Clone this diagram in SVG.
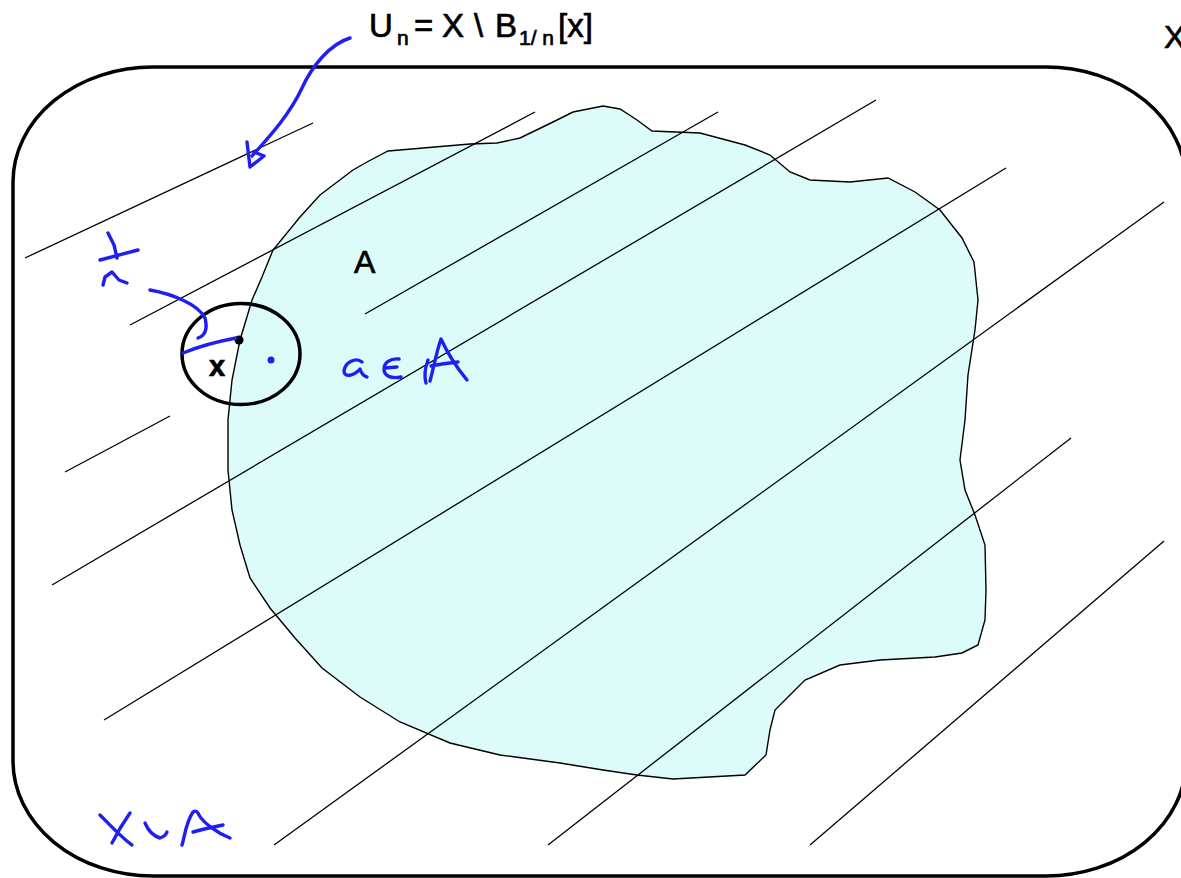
<svg xmlns="http://www.w3.org/2000/svg" width="1181" height="878" viewBox="0 0 1181 878">
<style>
.hatch{stroke:#000;stroke-width:1.3;fill:none}
.ink{stroke:#1f1ff5;stroke-width:3.4;fill:none;stroke-linecap:round;stroke-linejoin:round}
.lbl{font-family:"Liberation Sans",Arial,sans-serif;fill:#000;stroke:#000;stroke-width:0.7}
</style>
<rect width="1181" height="878" fill="#fff"/>
<g id="space-X">
<rect x="13" y="67" width="1173" height="809" rx="140" ry="115" fill="none" stroke="#000" stroke-width="3.5"/>
<text class="lbl" x="1164" y="48" font-size="32">X</text>
</g>
<g id="set-A">
<path d="M388,151 L470,144 L497,143 L520,138 L553,122 L573,112 L603,106 L620,109 L637,120 L652,131 L700,133 L745,145 L770,155 L790,172 L810,180 L850,182 L888,178 L915,192 L940,210 L962,238 L974,262 L978,300 L975,330 L968,375 L965,420 L960,460 L965,490 L975,515 L985,545 L986,590 L985,620 L978,645 L962,653 L935,657 L880,660 L840,665 L805,680 L790,695 L775,710 L770,730 L766,755 L745,775 L673,779 L637,775 L603,770 L560,763 L500,755 L450,743 L400,722 L360,697 L322,668 L295,638 L270,608 L250,578 L240,545 L232,510 L228,470 L228,420 L232,380 L240,340 L252,300 L262,277 L273,250 L300,217 L320,195 L353,170 L367,162 Z" fill="#ddfcf9" stroke="#000" stroke-width="1.4"/>
<text class="lbl" x="354" y="273" font-size="32">A</text>
</g>
<g id="connectors">
<line class="hatch" x1="25" y1="258" x2="313" y2="123"/>
<line class="hatch" x1="130" y1="325" x2="535" y2="112"/>
<line class="hatch" x1="365" y1="314" x2="718" y2="112"/>
<line class="hatch" x1="52" y1="585" x2="876" y2="100"/>
<line class="hatch" x1="65" y1="472" x2="170" y2="416"/>
<line class="hatch" x1="104" y1="720" x2="1006" y2="168"/>
<line class="hatch" x1="274" y1="845" x2="1164" y2="202"/>
<line class="hatch" x1="548" y1="845" x2="1071" y2="438"/>
<line class="hatch" x1="810" y1="845" x2="1164" y2="541"/>
</g>
<g id="ball">
<ellipse cx="241" cy="354" rx="59" ry="50.5" fill="none" stroke="#000" stroke-width="3.5"/>
<circle cx="239" cy="340" r="4.5" fill="#000"/>
<text class="lbl" x="209" y="376" font-size="29" font-weight="bold" stroke-width="0">x</text>
</g>
<g id="title">
<text class="lbl" y="37" font-size="33"><tspan x="369">U</tspan><tspan x="397" y="45" font-size="21">n</tspan><tspan x="414" y="37">=</tspan><tspan x="442">X</tspan><tspan x="474">\</tspan><tspan x="495">B</tspan><tspan x="519" y="45" font-size="21">1/ n</tspan><tspan x="558" y="37">[x]</tspan></text>
</g>
<g id="annotations">
<path class="ink" d="M350,38 C330,44 312,66 302,88 C290,114 270,136 252,156"/>
<path class="ink" d="M247,142 L250,167 L264,156 L254,152"/>
<path class="ink" d="M108,233 L114,245 L117,258 M100,260 L138,250"/>
<path class="ink" d="M103,285 L105,277 L112,272 L119,280 L127,283"/>
<path class="ink" d="M150,290 C172,294 198,304 205,318 C208,330 204,336 198,338"/>
<path class="ink" d="M183,353 C200,346 220,341 236,338"/>
<circle cx="271" cy="360" r="3.5" fill="#1f1ff5"/>
<path class="ink" d="M362,362 C356,357 345,362 344,371 C344,378 354,376 360,369 C361,372 362,376 367,377"/>
<path class="ink" d="M399,359 C390,358 384,363 384,369 C384,376 391,379 401,377 M385,368 L397,367"/>
<path class="ink" d="M428,360 C425,368 424,376 426,383 M430,381 C434,366 437,350 441,339 C447,352 457,368 467,380 M431,366 C440,364 449,363 458,362"/>
<path class="ink" d="M100,815 C110,825 122,838 132,845 M130,813 C123,823 117,833 112,843"/>
<path class="ink" d="M145,823 C148,830 153,836 160,838 C163,837 166,835 167,832"/>
<path class="ink" d="M182,845 C185,835 186,822 193,812 C196,810 198,812 199,815 C203,822 215,832 230,838 M193,832 C203,829 213,827 223,825"/>
</g>
</svg>
